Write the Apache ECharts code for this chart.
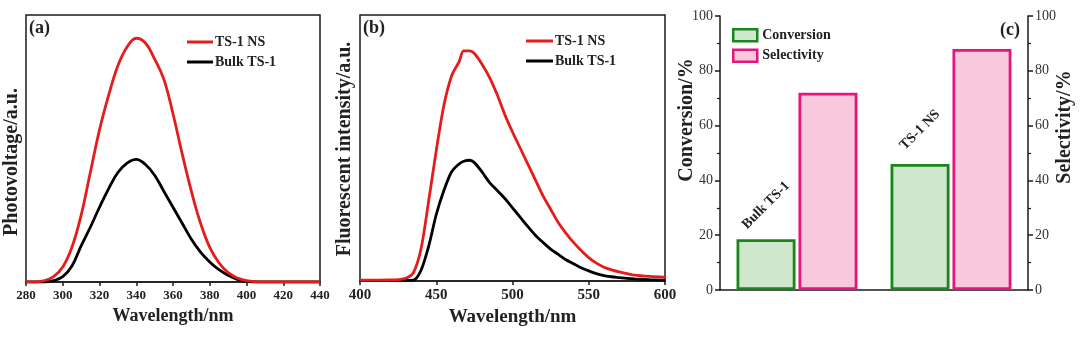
<!DOCTYPE html>
<html><head><meta charset="utf-8">
<script src="https://cdn.jsdelivr.net/npm/echarts@6/dist/echarts.min.js"></script>
<style>html,body{margin:0;padding:0;background:#fff}#c{width:1080px;height:340px}</style>
</head><body><div id="c"></div>
<script>
// ---- Panel (a): surface photovoltage ----
const wavelengthA = [280,285,290,295,300,305,310,315,320,325,330,335,340,345,350,355,360,365,370,375,380,385,390,395,400,405,410,420,430,440];
const nsA   = [0,0,0.005,0.02,0.056,0.13,0.25,0.41,0.57,0.70,0.81,0.88,0.913,0.895,0.835,0.76,0.63,0.48,0.34,0.22,0.13,0.072,0.035,0.015,0.005,0.001,0,0,0,0];
const bulkA = [0,0,0,0.005,0.02,0.06,0.135,0.205,0.28,0.35,0.41,0.445,0.459,0.44,0.40,0.34,0.28,0.22,0.16,0.112,0.075,0.046,0.025,0.01,0.002,0,0,0,0,0];
const ticksA = [280,300,320,340,360,380,400,420,440];

// ---- Panel (b): photoluminescence ----
const wavelengthB = [400,410,420,425,430,435,440,445,450,455,460,465,468,472,475,480,485,490,495,500,505,510,515,520,525,530,535,540,545,550,555,560,565,570,575,580,590,600];
const nsB   = [0.003,0.003,0.004,0.005,0.01,0.031,0.12,0.30,0.49,0.66,0.77,0.825,0.865,0.865,0.855,0.815,0.765,0.70,0.625,0.56,0.50,0.44,0.38,0.32,0.27,0.22,0.18,0.145,0.115,0.088,0.067,0.052,0.042,0.034,0.028,0.022,0.017,0.014];
const bulkB = [0.002,0.002,0.002,0.002,0.002,0.003,0.04,0.13,0.25,0.34,0.41,0.44,0.45,0.454,0.445,0.41,0.37,0.34,0.31,0.275,0.24,0.205,0.172,0.145,0.12,0.10,0.08,0.065,0.05,0.038,0.028,0.02,0.016,0.013,0.01,0.008,0.005,0.003];

// ---- Panel (c): catalytic performance ----
const catalysts = ['Bulk TS-1','TS-1 NS'];
const conversion = [18.5, 46];
const selectivity = [72, 88];

const serif = 'Liberation Serif, Times New Roman, serif';
const axisCol = '#1a1a1a';
const red = '#e41c1c';
const pairs = (xs, ys) => xs.map((x, i) => [x, ys[i]]);

const lineAxisX = (gi, min, max, interval, labelSize, nameSize) => ({
  gridIndex: gi, type: 'value', min, max, interval,
  axisLine: {show: true, onZero: false, lineStyle: {color: axisCol, width: 1.5}},
  axisTick: {show: true, inside: false, length: 4, lineStyle: {color: axisCol, width: 1.5}},
  axisLabel: {fontFamily: serif, fontWeight: 'bold', fontSize: labelSize, color: '#222', margin: 7},
  splitLine: {show: false},
  name: 'Wavelength/nm', nameLocation: 'middle', nameGap: 22,
  nameTextStyle: {fontFamily: serif, fontWeight: 'bold', fontSize: nameSize, color: '#222'}
});
const valAxisC = (pos) => ({
  gridIndex: 2, type: 'value', min: 0, max: 100, interval: 20, position: pos,
  axisLine: {show: true, lineStyle: {color: axisCol, width: 1.5}},
  axisTick: {show: true, inside: false, length: 5, lineStyle: {color: axisCol, width: 1.5}},
  minorTick: {show: true, splitNumber: 2, length: 3, lineStyle: {color: axisCol, width: 1.2}},
  axisLabel: {fontFamily: serif, fontSize: 14, color: '#333', margin: 7},
  splitLine: {show: false}, minorSplitLine: {show: false}
});

const greenBorder = '#1b861b', greenFill = '#cfe7cc';
const pinkBorder = '#e2167c', pinkFill = '#f8c8dd';

const option = {
  backgroundColor: '#fff',
  animation: false,
  grid: [
    {left: 26, top: 15, width: 294, height: 267, show: true, borderColor: axisCol, borderWidth: 1.5, backgroundColor: 'transparent'},
    {left: 360, top: 15, width: 305, height: 266, show: true, borderColor: axisCol, borderWidth: 1.5, backgroundColor: 'transparent'},
    {left: 720, top: 16, width: 308, height: 274}
  ],
  xAxis: [
    lineAxisX(0, 280, 440, 20, 13, 18),
    lineAxisX(1, 400, 600, 50, 15, 19),
    {gridIndex: 2, type: 'category', data: catalysts,
     axisLine: {show: true, lineStyle: {color: axisCol, width: 1.5}},
     axisTick: {show: false}, axisLabel: {show: false}}
  ],
  yAxis: [
    {gridIndex: 0, type: 'value', min: 0, max: 1, show: false},
    {gridIndex: 1, type: 'value', min: 0, max: 1, show: false},
    valAxisC('left'),
    valAxisC('right')
  ],
  legend: [
    {left: 182, top: 30, orient: 'vertical', icon: 'rect', itemWidth: 26, itemHeight: 3, itemGap: 6,
     data: ['TS-1 NS', 'Bulk TS-1'],
     textStyle: {fontFamily: serif, fontWeight: 'bold', fontSize: 14, color: '#222', padding: [0,0,0,-3]}},
    {left: 521, top: 29, orient: 'vertical', icon: 'rect', itemWidth: 27, itemHeight: 3, itemGap: 6,
     data: ['TS-1 NS', 'Bulk TS-1'],
     textStyle: {fontFamily: serif, fontWeight: 'bold', fontSize: 14, color: '#222', padding: [0,0,0,-3]}},
    {left: 727, top: 23, orient: 'vertical', icon: 'rect', itemWidth: 24, itemHeight: 12, itemGap: 6,
     data: [
       {name: 'Conversion', itemStyle: {color: greenFill, borderColor: greenBorder, borderWidth: 2.5}},
       {name: 'Selectivity', itemStyle: {color: pinkFill, borderColor: pinkBorder, borderWidth: 2.5}}
     ],
     textStyle: {fontFamily: serif, fontWeight: 'bold', fontSize: 14, color: '#222'}}
  ],
  series: [
    {name: 'TS-1 NS', type: 'line', xAxisIndex: 0, yAxisIndex: 0, data: pairs(wavelengthA, nsA),
     smooth: 0.4, showSymbol: false, lineStyle: {color: red, width: 2.8}, itemStyle: {color: red}, z: 3},
    {name: 'Bulk TS-1', type: 'line', xAxisIndex: 0, yAxisIndex: 0, data: pairs(wavelengthA, bulkA),
     smooth: 0.4, showSymbol: false, lineStyle: {color: '#000', width: 2.8}, itemStyle: {color: '#000'}, z: 2},
    {name: 'TS-1 NS', type: 'line', xAxisIndex: 1, yAxisIndex: 1, data: pairs(wavelengthB, nsB),
     smooth: 0.3, showSymbol: false, lineStyle: {color: red, width: 2.8}, itemStyle: {color: red}, z: 3},
    {name: 'Bulk TS-1', type: 'line', xAxisIndex: 1, yAxisIndex: 1, data: pairs(wavelengthB, bulkB),
     smooth: 0.3, showSymbol: false, lineStyle: {color: '#000', width: 2.8}, itemStyle: {color: '#000'}, z: 2},
    {name: 'Conversion', type: 'bar', xAxisIndex: 2, yAxisIndex: 2, data: conversion,
     barWidth: 59, barGap: '5%',
     itemStyle: {color: greenFill, borderColor: greenBorder, borderWidth: 2.8},
     label: {show: true, position: 'top', distance: 34, rotate: 45, align: 'center', verticalAlign: 'middle',
             formatter: '{b}', fontFamily: serif, fontWeight: 'bold', fontSize: 14, color: '#222'}},
    {name: 'Selectivity', type: 'bar', xAxisIndex: 2, yAxisIndex: 3, data: selectivity,
     barWidth: 59, barGap: '5%',
     itemStyle: {color: pinkFill, borderColor: pinkBorder, borderWidth: 2.8}}
  ],
  graphic: [
    {type: 'text', left: 29, top: 19, style: {text: '(a)', font: 'bold 18px ' + serif, fill: '#222'}},
    {type: 'text', left: 363, top: 19, style: {text: '(b)', font: 'bold 18px ' + serif, fill: '#222'}},
    {type: 'text', left: 1000, top: 21, style: {text: '(c)', font: 'bold 18px ' + serif, fill: '#222'}},
    {type: 'text', x: 12, y: 162, rotation: Math.PI / 2,
     style: {text: 'Photovoltage/a.u.', font: 'bold 20px ' + serif, fill: '#222', align: 'center', verticalAlign: 'middle'}},
    {type: 'text', x: 345, y: 149, rotation: Math.PI / 2,
     style: {text: 'Fluorescent intensity/a.u.', font: 'bold 20px ' + serif, fill: '#222', align: 'center', verticalAlign: 'middle'}},
    {type: 'text', x: 687, y: 120, rotation: Math.PI / 2,
     style: {text: 'Conversion/%', font: 'bold 20px ' + serif, fill: '#222', align: 'center', verticalAlign: 'middle'}},
    {type: 'text', x: 1065, y: 127, rotation: Math.PI / 2,
     style: {text: 'Selectivity/%', font: 'bold 20px ' + serif, fill: '#222', align: 'center', verticalAlign: 'middle'}}
  ]
};
const chart = echarts.init(document.getElementById('c'), null, {renderer: 'canvas'});
chart.setOption(option);
</script>
</body></html>
